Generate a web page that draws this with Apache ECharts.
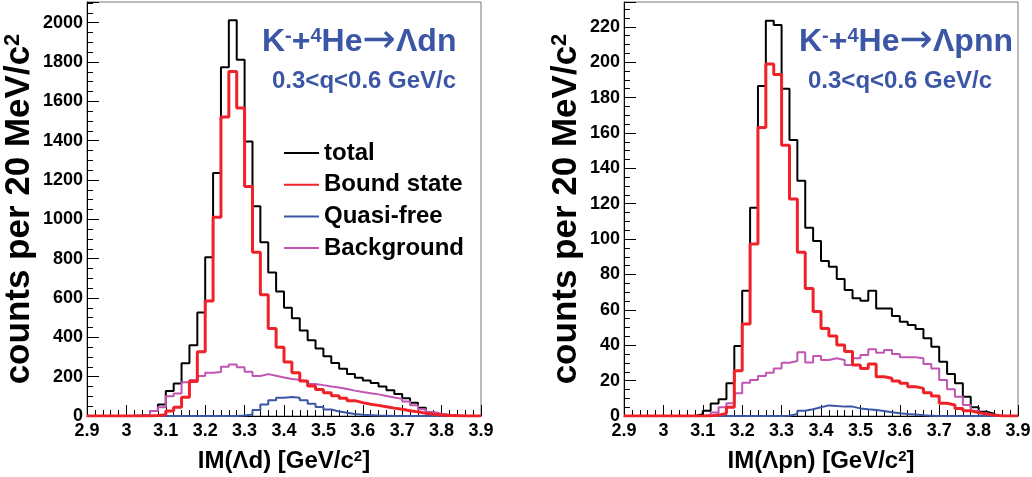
<!DOCTYPE html>
<html>
<head>
<meta charset="utf-8">
<script src="https://cdn.jsdelivr.net/npm/echarts@6/dist/echarts.min.js"></script>
<style>
html,body{margin:0;padding:0;background:#fff;}
#chart{width:1032px;height:477px;}
</style>
</head>
<body>
<div id="chart"></div>
<script>
// Histogram binning: 50 bins of 20 MeV from 2.9 to 3.9 GeV
const binLow = 2.9;
const binWidth = 0.02;
const binHigh = 3.9;

const seriesNames = ['total', 'Bound state', 'Quasi-free', 'Background'];

// Left panel: K- + 4He -> Lambda d n
const totalL = [0,0,0,0,0,0,2,6,25,59, 127,165,268,360,526,807,1235,1773,2012,1812,
  1396,1067,884,729,633,551,497,435,385,343, 304,270,240,214,195,180,168,150,131,112,
  90,68,42,20,9,4,1,0,0,0];
const boundL = [0,0,0,0,0,0,0,0,2,6, 25,44,95,175,327,585,1011,1520,1752,1566,
  1167,833,616,445,350,274,220,178,153,135, 118,103,90,78,68,60,54,47,40,34,
  27,21,14,9,5,2,1,0,0,0];
const quasiL = [0,0,0,0,0,0,0,0,0,0, 0,0,0,0,0,0,0,0,0,2,
  8,30,59,80,93,97,93,80,62,46, 33,23,16,10,6,4,2,1,0,0,
  0,0,0,0,0,0,0,0,0,0];
const bgL = [0,0,0,0,0,1,3,6,25,44, 100,115,172,183,204,220,224,250,262,248,
  225,203,213,205,196,188,184,175,163,157, 150,145,137,129,122,116,110,102,94,87,
  74,55,34,20,12,6,2,0,0,0];

// Right panel: K- + 4He -> Lambda p n n
const totalR = [0,0,0,0,0,0,0,0,0,1, 3,7,9.4,18.5,39.6,70.8,117.7,186.5,223.4,221,
  185,156,133,106.4,98.9,87.6,84.4,77.4,71.2,66.5, 65.2,70.8,60.8,60.8,56.5,53.3,51.4,49.2,43.9,39.2,
  30.7,23.7,18.5,10.9,4.9,2.4,1.3,0,0,0];
const boundR = [0,0,0,0,0,0,0,0,0,0, 0,0.5,1.5,4.9,25.6,52,97.2,163,199,193,
  153,122.6,92.5,72.1,59,49.5,45.2,40.1,36.4,28.8, 26.9,29.4,22.2,21.3,19.8,18.5,16.6,15.6,13.2,11.3,
  7.2,6.2,4.3,3,1.9,1.1,0.5,0,0,0];
const quasiR = [0,0,0,0,0,0,0,0,0,0, 0,0,0,0,0,0,0,0,0,0,
  0.2,1.1,3,3.8,4.9,6,5.6,5.3,5.3,4.3, 3.8,3.4,2.8,2.1,1.5,1.1,0.8,0.4,0.2,0,
  0,0,0,0,0,0,0,0,0,0];
const bgR = [0,0,0,0,0,0,0,0,0,0, 0.6,2,4.9,7.2,12.8,18.8,20.3,22.6,24.5,26.9,
  30.1,31.1,36,30.3,33.9,31.6,32.6,31.6,28.8,32.6, 34.5,37.7,35.8,37.3,35,33.2,33.2,32.6,29.4,26.9,
  20.3,15.1,10.9,6.2,2.8,1.5,0.5,0,0,0];

const xTickInterval = 0.1;
const yMaxL = 2105, yIntervalL = 200;
const yMaxR = 234, yIntervalR = 20;

// ---------------- styling ----------------
const FONT = 'Liberation Sans, Arial, Helvetica, DejaVu Sans, sans-serif';
const BLUE_TXT = '#3a56a5';
const COLORS = {
  'total': '#000000',
  'Bound state': '#ef2229',
  'Quasi-free': '#3a56a5',
  'Background': '#c155b1'
};
const WIDTHS = {'total': 2, 'Bound state': 3, 'Quasi-free': 2, 'Background': 2};
const ZS = {'total': 2, 'Background': 3, 'Quasi-free': 4, 'Bound state': 5};

function toSteps(vals) {
  const pts = vals.map((v, i) => [Math.round((binLow + binWidth * i) * 100) / 100, v]);
  pts.push([binHigh, vals[vals.length - 1]]);
  return pts;
}

function histSeries(name, vals, idx) {
  return {
    name: name,
    type: 'line',
    step: 'end',
    symbol: 'none',
    xAxisIndex: idx,
    yAxisIndex: idx,
    z: ZS[name],
    clip: true,
    animation: false,
    lineStyle: {color: COLORS[name], width: WIDTHS[name]},
    itemStyle: {color: COLORS[name]},
    data: toSteps(vals)
  };
}

function supRich(size, lh) {
  return {sup: {fontSize: size, fontWeight: 'bold', fontFamily: FONT, color: '#000', verticalAlign: 'top', lineHeight: lh}};
}
const titleRich = {
  sup: {fontSize: 20, fontWeight: 'bold', fontFamily: FONT, color: BLUE_TXT, verticalAlign: 'top', lineHeight: 32},
  arr: {fontSize: 40, fontWeight: 'normal', fontFamily: 'DejaVu Sans, Liberation Sans, sans-serif', color: BLUE_TXT, lineHeight: 32}
};

function xAxisCfg(idx, name) {
  return {
    gridIndex: idx, type: 'value', min: binLow, max: binHigh, interval: xTickInterval,
    axisLine: {show: true, onZero: false, lineStyle: {color: '#000', width: 1}},
    axisTick: {show: true, inside: true, length: 11, lineStyle: {color: '#000', width: 1}},
    minorTick: {show: true, splitNumber: 5, length: 6, lineStyle: {color: '#000', width: 1}},
    splitLine: {show: false},
    axisLabel: {color: '#000', fontWeight: 'bold', fontSize: 18, fontFamily: FONT, margin: 6},
    name: name, nameLocation: 'middle', nameGap: 33,
    nameTextStyle: {color: '#000', fontWeight: 'bold', fontSize: 24, fontFamily: FONT, lineHeight: 25, rich: supRich(15, 25)}
  };
}
function yAxisCfg(idx, max, interval, gap) {
  return {
    gridIndex: idx, type: 'value', min: 0, max: max, interval: interval,
    axisLine: {show: true, onZero: false, lineStyle: {color: '#000', width: 1}},
    axisTick: {show: true, inside: true, length: 12, lineStyle: {color: '#000', width: 1}},
    minorTick: {show: true, splitNumber: 4, length: 6, lineStyle: {color: '#000', width: 1}},
    splitLine: {show: false},
    axisLabel: {color: '#000', fontWeight: 'bold', fontSize: 18, fontFamily: FONT, margin: 4, showMaxLabel: false,
      formatter: function (v) { return String(v); }},
    name: 'counts per 20 MeV/c{sup|2}', nameLocation: 'middle', nameRotate: 90, nameGap: gap,
    nameTextStyle: {color: '#000', fontWeight: 'bold', fontSize: 35, fontFamily: FONT, lineHeight: 35, rich: supRich(22, 35)}
  };
}

function titleCfg(text, left, top, size) {
  return {
    text: text, left: left, top: top, padding: 0,
    textStyle: {color: BLUE_TXT, fontWeight: 'bold', fontSize: size, fontFamily: FONT, lineHeight: size, rich: titleRich}
  };
}

const legendData = seriesNames.map(n => ({name: n, icon: 'rect'}));

const chart = echarts.init(document.getElementById('chart'), null, {renderer: 'canvas'});
chart.setOption({
  backgroundColor: '#ffffff',
  animation: false,
  title: [
    titleCfg('K{sup|-}+{sup|4}He{arr|\u2192}\u039Bdn', 262, 26, 32),
    titleCfg('0.3<q<0.6 GeV/c', 272, 69, 24),
    titleCfg('K{sup|-}+{sup|4}He{arr|\u2192}\u039Bpnn', 799, 26, 32),
    titleCfg('0.3<q<0.6 GeV/c', 808, 69, 24)
  ],
  legend: {
    show: true, orient: 'vertical', left: 279, top: 136,
    itemWidth: 35, itemHeight: 2, itemGap: 7.7, selectedMode: false,
    itemStyle: {borderWidth: 0},
    data: legendData,
    textStyle: {color: '#000', fontWeight: 'bold', fontSize: 24, fontFamily: FONT, lineHeight: 24}
  },
  grid: [
    {left: 87, top: 2, width: 394, height: 414, show: true, borderColor: '#777', borderWidth: 1,
      backgroundColor: 'transparent', containLabel: false, outerBoundsMode: 'none'},
    {left: 624, top: 2, width: 394, height: 414, show: true, borderColor: '#777', borderWidth: 1,
      backgroundColor: 'transparent', containLabel: false, outerBoundsMode: 'none'}
  ],
  xAxis: [xAxisCfg(0, 'IM(\u039Bd) [GeV/c{sup|2}]'), xAxisCfg(1, 'IM(\u039Bpn) [GeV/c{sup|2}]')],
  yAxis: [yAxisCfg(0, yMaxL, yIntervalL, 50), yAxisCfg(1, yMaxR, yIntervalR, 40)],
  series: [
    histSeries('total', totalL, 0),
    histSeries('Background', bgL, 0),
    histSeries('Quasi-free', quasiL, 0),
    histSeries('Bound state', boundL, 0),
    histSeries('total', totalR, 1),
    histSeries('Background', bgR, 1),
    histSeries('Quasi-free', quasiR, 1),
    histSeries('Bound state', boundR, 1)
  ]
});
</script>
</body>
</html>
